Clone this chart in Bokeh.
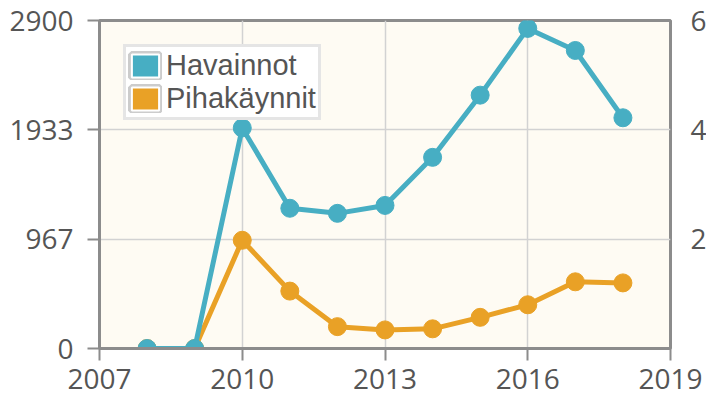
from bokeh.plotting import figure
from bokeh.models import Range1d, Legend, LegendItem, LinearAxis, FixedTicker, ColumnDataSource
from bokeh.embed import file_html
from bokeh.resources import INLINE

years = [2008, 2009, 2010, 2011, 2012, 2013, 2014, 2015, 2016, 2017, 2018]
havainnot = [0, 0, 1950, 1240, 1195, 1265, 1690, 2240, 2830, 2635, 2040]
pihakaynnit = [0, 0, 198, 105, 40, 34, 36, 57, 80, 122, 120]

x_ticks = [2007, 2010, 2013, 2016, 2019]
left_ticks = [0, 967, 1933, 2900]
right_ticks = [200, 400, 600]
# the original page cuts the right-hand labels at the window edge: only their first digit shows
right_labels = {200: "2", 400: "4", 600: "6"}

TEAL = "#47AEC3"
ORANGE = "#E9A126"
AXIS = "#8c8c8c"
FONT = "Open Sans"
LFONT = "Liberation Sans"
TXT = "#555555"
FS = "28px"

p = figure(frame_width=571, frame_height=328, min_border_left=99, min_border_right=36,
           min_border_top=20, min_border_bottom=52,
           x_range=Range1d(2007, 2019), y_range=Range1d(0, 2900),
           output_backend="svg", toolbar_location=None)
p.extra_y_ranges = {"right": Range1d(0, 600)}
p.background_fill_color = "#FEFBF3"
p.border_fill_color = "white"
p.outline_line_color = AXIS
p.outline_line_width = 3

for ax in (p.xaxis[0], p.yaxis[0]):
    ax.axis_line_color = AXIS
    ax.axis_line_width = 3
    ax.major_tick_line_color = AXIS
    ax.major_tick_line_width = 2
    ax.major_tick_out = 12
    ax.major_tick_in = 0
    ax.minor_tick_line_color = None
    ax.major_label_text_font = FONT
    ax.major_label_text_font_size = FS
    ax.major_label_text_color = TXT
p.xaxis.ticker = FixedTicker(ticks=x_ticks)
p.yaxis.ticker = FixedTicker(ticks=left_ticks)
p.xaxis.major_label_standoff = 8
p.yaxis.major_label_standoff = 14

right_axis = LinearAxis(y_range_name="right", ticker=FixedTicker(ticks=right_ticks),
                        major_label_overrides=right_labels,
                        axis_line_color=None, major_tick_line_color=None,
                        minor_tick_line_color=None, major_tick_out=0, major_tick_in=0,
                        major_label_standoff=20, major_label_text_font=FONT,
                        major_label_text_font_size=FS, major_label_text_color=TXT)
p.add_layout(right_axis, "right")

p.xgrid.ticker = FixedTicker(ticks=x_ticks)
p.ygrid.ticker = FixedTicker(ticks=left_ticks)
p.grid.grid_line_color = "#d2d2d2"
p.grid.grid_line_width = 1.5

src = ColumnDataSource(dict(x=years, h=havainnot, p=pihakaynnit))

p.line("x", "p", source=src, line_color=ORANGE, line_width=5, y_range_name="right")
p.scatter("x", "p", source=src, size=18, fill_color=ORANGE, line_color=ORANGE, y_range_name="right")
p.line("x", "h", source=src, line_color=TEAL, line_width=5)
p.scatter("x", "h", source=src, size=18, fill_color=TEAL, line_color=TEAL)

nan = float("nan")
swatch = ColumnDataSource(dict(l=[nan], r=[nan], t=[nan], b=[nan]))
frame_kw = dict(source=swatch, left="l", right="r", top="t", bottom="b",
                fill_color="#cccccc", line_color="#cccccc", line_width=8)
f1 = p.quad(**frame_kw)
g1 = p.quad(source=swatch, left="l", right="r", top="t", bottom="b",
            fill_color=TEAL, line_color="white", line_width=2)
f2 = p.quad(**frame_kw)
g2 = p.quad(source=swatch, left="l", right="r", top="t", bottom="b",
            fill_color=ORANGE, line_color="white", line_width=2)
legend = Legend(items=[LegendItem(label="Havainnot", renderers=[f1, g1]),
                       LegendItem(label="Pihakäynnit", renderers=[f2, g2])],
                location="top_left", margin=24, padding=2, spacing=0,
                glyph_width=34, glyph_height=29, label_standoff=4,
                label_text_font=LFONT, label_text_font_size="29px", label_text_color=TXT,
                label_height=29, label_text_baseline="middle",
                border_line_color="#cccccc", border_line_width=3,
                background_fill_color="white", background_fill_alpha=1.0)
p.add_layout(legend)

open("out.html", "w").write(file_html(p, INLINE))
